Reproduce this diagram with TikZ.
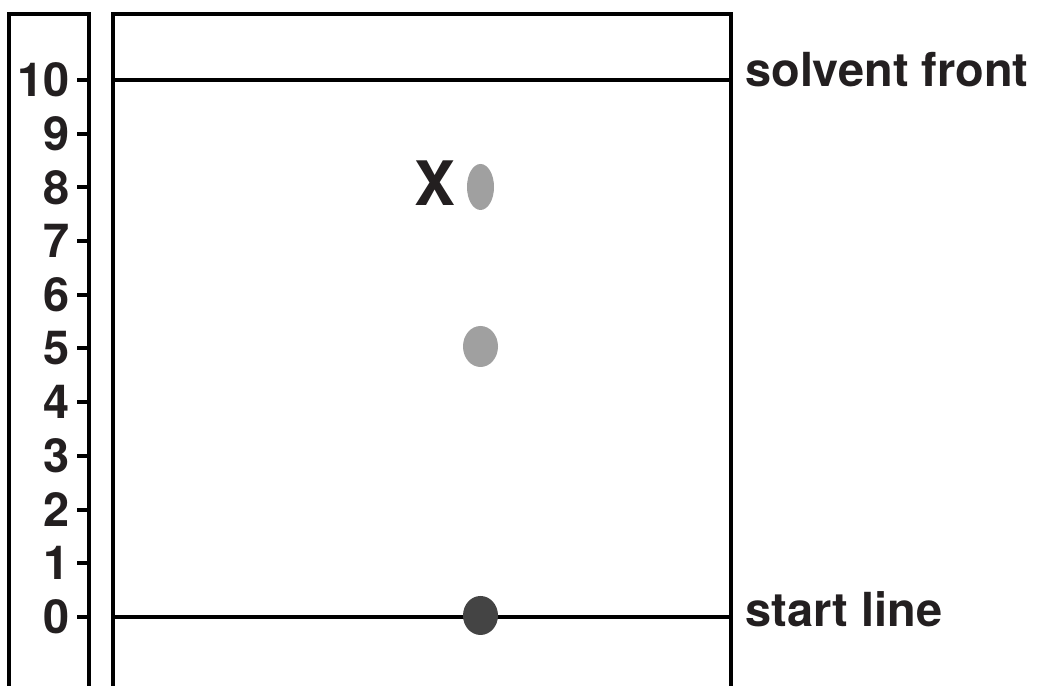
\documentclass[tikz,border=0pt]{standalone}
\usepackage{fontspec}
\setmainfont{TeX Gyre Heros}
\usepackage{xcolor}
\usetikzlibrary{positioning, calc}
\definecolor{inkblack}{HTML}{231F20}
\definecolor{spotlight}{HTML}{A0A0A0}
\definecolor{spotdark}{HTML}{444444}

\begin{document}
\begin{tikzpicture}[
        edge/.style={line width=0.08cm, black},
        tick/.style={line width=0.08cm, black},
        num/.style={anchor=east, inner sep=0pt, text=inkblack, font=\fontsize{26.7}{30}\selectfont\bfseries},
        tag/.style={anchor=base west, inner sep=0pt, text=inkblack, font=\fontsize{26.7}{30}\selectfont\bfseries}
    ]
        \useasboundingbox (0,0) rectangle (20.8,13.72);

        % Ruler
        \draw[edge] (0.18,0) -- (0.18,13.44) -- (1.78,13.44) -- (1.78,0);

        % Plate
        \draw[edge] (2.26,0) -- (2.26,13.44) -- (14.62,13.44) -- (14.62,0);

        % Solvent front and start line
        \draw[edge] (2.26,12.12) -- (14.62,12.12);
        \draw[edge] (2.26,1.38) -- (14.62,1.38);

        % Scale
        \node[num] (n0) at (1.40,1.38) {0};
        \node[num] (n1) at (1.40,2.454) {1};
        \node[num] (n2) at (1.40,3.528) {2};
        \node[num] (n3) at (1.40,4.602) {3};
        \node[num] (n4) at (1.40,5.676) {4};
        \node[num] (n5) at (1.40,6.75) {5};
        \node[num] (n6) at (1.40,7.824) {6};
        \node[num] (n7) at (1.40,8.898) {7};
        \node[num] (n8) at (1.40,9.972) {8};
        \node[num] (n9) at (1.40,11.046) {9};
        \node[num] (n10) at (1.40,12.12) {10};

        \draw[tick] ([xshift=0.14cm]n0.east) -- ++(0.24,0);
        \draw[tick] ([xshift=0.14cm]n1.east) -- ++(0.24,0);
        \draw[tick] ([xshift=0.14cm]n2.east) -- ++(0.24,0);
        \draw[tick] ([xshift=0.14cm]n3.east) -- ++(0.24,0);
        \draw[tick] ([xshift=0.14cm]n4.east) -- ++(0.24,0);
        \draw[tick] ([xshift=0.14cm]n5.east) -- ++(0.24,0);
        \draw[tick] ([xshift=0.14cm]n6.east) -- ++(0.24,0);
        \draw[tick] ([xshift=0.14cm]n7.east) -- ++(0.24,0);
        \draw[tick] ([xshift=0.14cm]n8.east) -- ++(0.24,0);
        \draw[tick] ([xshift=0.14cm]n9.east) -- ++(0.24,0);
        \draw[tick] ([xshift=0.14cm]n10.east) -- ++(0.24,0);

        % Spots
        \fill[spotlight] (9.61,9.98) ellipse (0.27 and 0.46);
        \fill[spotlight] (9.61,6.79) ellipse (0.35 and 0.41);
        \fill[spotdark] (9.61,1.41) ellipse (0.35 and 0.39);

        % Labels
        \node[anchor=center, inner sep=0pt, text=inkblack, font=\fontsize{34.9}{40}\selectfont\bfseries] (xlab) at (8.70,10.06) {X};
        \node[tag] (front) at (14.90,11.98) {solvent front};
        \node[tag] (start) at (14.90,1.18) {start line};
    \end{tikzpicture}
\end{document}
